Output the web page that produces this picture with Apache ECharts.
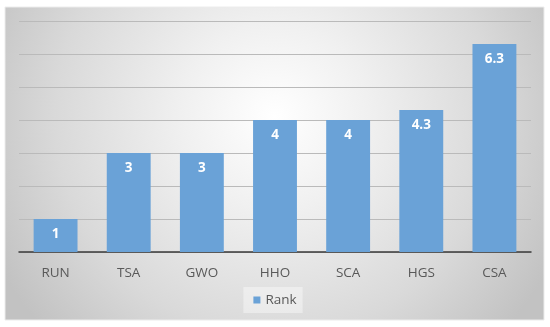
<!DOCTYPE html>
<html>
<head>
<meta charset="utf-8">
<script src="https://cdn.jsdelivr.net/npm/echarts@6/dist/echarts.min.js"></script>
<style>html,body{margin:0;padding:0;background:#fff;}#c{width:550px;height:327px;}</style>
</head>
<body>
<div id="c"></div>
<script>
const categories = ['RUN', 'TSA', 'GWO', 'HHO', 'SCA', 'HGS', 'CSA'];
const rankValues = [1, 3, 3, 4, 4, 4.3, 6.3];
const seriesName = 'Rank';

const chart = echarts.init(document.getElementById('c'), null, {renderer: 'canvas'});
const font = '"Open Sans", "Liberation Sans", sans-serif';
chart.setOption({
  animation: false,
  backgroundColor: '#ffffff',
  graphic: [{
    type: 'rect',
    z: -10,
    silent: true,
    shape: {x: 5, y: 7, width: 539, height: 313},
    style: {
      fill: {
        type: 'radial', x: 0.5, y: 0.35, r: 1.0,
        colorStops: [
          {offset: 0, color: '#ffffff'},
          {offset: 0.3, color: '#f0f0f0'},
          {offset: 0.7, color: '#d9d9d9'},
          {offset: 1, color: '#c2c2c2'}
        ]
      },
      stroke: '#ececec',
      lineWidth: 1
    }
  }],
  grid: {left: 19, right: 19, top: 21, bottom: 75, containLabel: false},
  xAxis: {
    type: 'category',
    data: categories,
    axisLine: {lineStyle: {color: '#3a3a3a', width: 1.5}},
    axisTick: {show: false},
    axisLabel: {color: '#595959', fontSize: 13.5, fontFamily: font, margin: 14}
  },
  yAxis: {
    type: 'value',
    min: 0, max: 7, interval: 1,
    axisLabel: {show: false},
    axisLine: {show: false},
    axisTick: {show: false},
    splitLine: {lineStyle: {color: '#bababa', width: 1}}
  },
  legend: {
    data: [seriesName],
    bottom: 14,
    left: 'center',
    itemWidth: 7, itemHeight: 7,
    itemGap: 6,
    padding: [6, 6, 6, 10],
    backgroundColor: 'rgba(255,255,255,0.4)',
    textStyle: {color: '#595959', fontSize: 13.5, fontFamily: font},
    icon: 'rect'
  },
  series: [{
    name: seriesName,
    type: 'bar',
    data: rankValues,
    barCategoryGap: '40%',
    itemStyle: {color: '#6aa2d7'},
    label: {
      show: true,
      position: 'insideTop',
      distance: 8,
      color: '#ffffff',
      fontWeight: 'bold',
      fontSize: 13.5,
      fontFamily: font
    }
  }]
});
</script>
</body>
</html>
